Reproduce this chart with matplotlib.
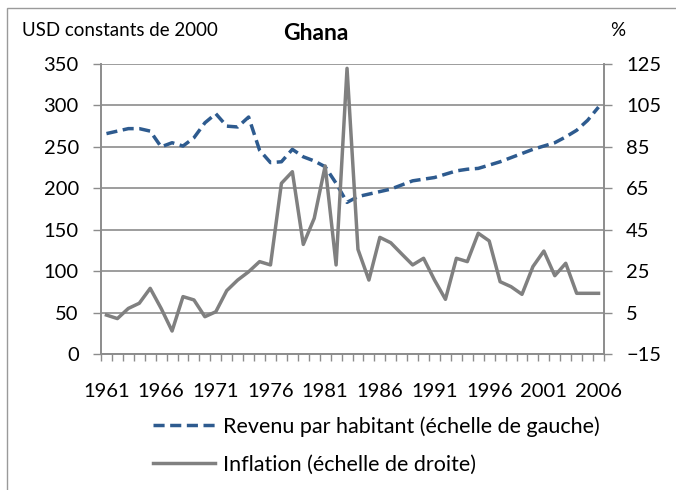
"""Ghana: revenu par habitant et inflation, 1961-2006."""

import matplotlib

matplotlib.use("Agg")
import matplotlib.pyplot as plt  # noqa: E402
import numpy as np  # noqa: E402

years = list(range(1961, 2007))

# USD constants de 2000 (echelle de gauche)
revenu = [
    266, 269, 272, 272, 269, 250, 255, 251, 261, 279,
    290, 275, 274, 286, 246, 231, 232, 247, 238, 233,
    226, 206, 183, 190, 193, 196, 199, 204, 209, 211,
    213, 217, 221, 223, 224, 228, 232, 237, 242, 247,
    251, 255, 262, 270, 282, 298,
]

# Inflation en % (echelle de droite)
inflation = [
    3.8, 2.1, 7.0, 9.5, 16.7, 7.0, -3.9, 12.7, 11.1, 3.0,
    5.4, 15.6, 20.7, 24.7, 29.6, 28.0, 67.4, 73.0, 37.9, 50.5,
    75.8, 28.0, 122.9, 35.5, 20.7, 41.3, 38.7, 33.3, 28.0, 31.2,
    20.7, 11.4, 31.2, 29.6, 43.3, 39.6, 19.9, 17.5, 13.8, 27.2,
    34.7, 22.8, 28.8, 14.3, 14.3, 14.3,
]

left_ticks = list(range(0, 351, 50))
right_ticks = list(range(-15, 126, 20))

BLUE = "#2e5b8f"
GREY = "#808080"
AXIS = "#8c8c8c"
TICK_FS = 14.5

plt.rcParams["font.family"] = ["Lato", "DejaVu Sans"]

W, H = 676, 490
fig = plt.figure(figsize=(W / 100, H / 100), dpi=100)

# chart-area border (cropped on right/bottom like the reference)
fig.add_artist(plt.Rectangle((7 / W, -0.1), 1.2, 1 - 8 / H + 0.1,
                             transform=fig.transFigure, fill=False,
                             edgecolor="#9a9a9a", linewidth=1.0))

ax = fig.add_axes([101 / W, 1 - 354 / H, 503 / W, 290 / H])
x = np.arange(len(years))

ax.plot(x, revenu, color=BLUE, linewidth=2.5, dashes=(3.2, 1.6),
        label="Revenu par habitant (échelle de gauche)")
ax.set_xlim(-0.5, len(years) - 0.5)
ax.set_ylim(0, 350)
ax.set_yticks(left_ticks)
ax.grid(axis="y", color=AXIS, linewidth=1.2)
ax.set_axisbelow(True)

ax.set_xticks(x[::5])
ax.set_xticklabels([str(y) for y in years[::5]])
ax.set_xticks(np.arange(-0.5, len(years)), minor=True)
ax.tick_params(axis="x", which="major", length=0, pad=21, labelsize=TICK_FS)
ax.tick_params(axis="x", which="minor", length=5, color=AXIS, width=1)
ax.tick_params(axis="y", length=6, color=AXIS, width=1,
               labelsize=TICK_FS, pad=10)

ax.spines["top"].set_visible(False)
for side in ("left", "bottom", "right"):
    ax.spines[side].set_color(AXIS)
    ax.spines[side].set_linewidth(1.2)

ax2 = ax.twinx()
ax2.plot(x, inflation, color=GREY, linewidth=2.5,
         label="Inflation (échelle de droite)")
ax2.set_ylim(-15, 125)
ax2.set_yticks(right_ticks)
ax2.tick_params(axis="y", length=6, color=AXIS, width=1,
                labelsize=TICK_FS, pad=10)
ax2.spines["top"].set_visible(False)
for side in ("left", "bottom", "right"):
    ax2.spines[side].set_color(AXIS)
    ax2.spines[side].set_linewidth(1.2)

fig.text(22 / W, 1 - 30 / H, "USD constants de 2000", fontsize=13.5,
         va="center", ha="left")
fig.text(316 / W, 1 - 33 / H, "Ghana", fontsize=16.5, fontweight="bold",
         va="center", ha="center")
fig.text(618 / W, 1 - 30 / H, "%", fontsize=13.5, va="center", ha="center")

h1, l1 = ax.get_legend_handles_labels()
h2, l2 = ax2.get_legend_handles_labels()
fig.legend(h1 + h2, l1 + l2, loc="upper left",
           bbox_to_anchor=(153 / W, 1 - 416 / H), frameon=False,
           fontsize=15.5, handlelength=2.9, handletextpad=0.33,
           labelspacing=0.85, borderpad=0, borderaxespad=0)

fig.savefig("out.png", dpi=100)
